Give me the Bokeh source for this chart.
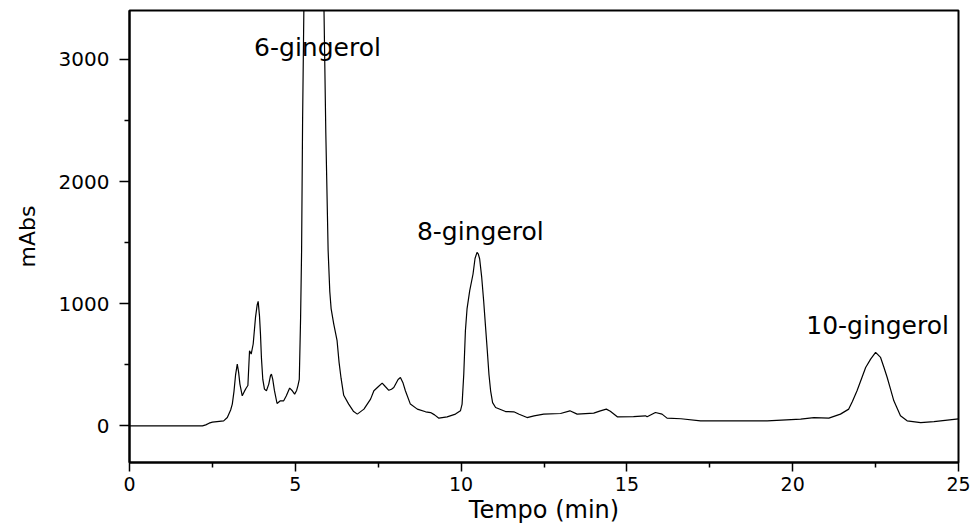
from bokeh.plotting import figure
from bokeh.models import FixedTicker, Range1d
from bokeh.core.properties import value
from bokeh.embed import file_html
from bokeh.resources import INLINE

# HPLC chromatogram of gingerols: retention time (min) vs absorbance (mAbs)
tempo = [
    0.0, 2.2, 2.3, 2.4, 2.5, 2.64, 2.84, 2.95, 3.05, 3.10, 3.15, 3.20, 3.25, 3.29,
    3.33, 3.40, 3.46, 3.52, 3.57, 3.62, 3.67, 3.73, 3.80, 3.85, 3.88, 3.92, 3.95,
    3.98, 4.02, 4.07, 4.13, 4.20, 4.25, 4.28, 4.32, 4.37, 4.45, 4.55, 4.65, 4.73,
    4.83, 4.91, 4.98, 5.04, 5.08, 5.12, 5.16, 5.19, 5.22, 5.26, 5.32, 5.45, 5.60,
    5.75, 5.86, 5.92, 5.99, 6.04, 6.08, 6.16, 6.26, 6.32, 6.38, 6.46, 6.61, 6.75,
    6.87, 7.07, 7.27, 7.37, 7.50, 7.62, 7.72, 7.82, 7.90, 7.97, 8.10, 8.17, 8.25,
    8.32, 8.47, 8.68, 8.93, 9.08, 9.20, 9.33, 9.58, 9.83, 9.98, 10.03, 10.08,
    10.13, 10.18, 10.26, 10.36, 10.42, 10.48, 10.52, 10.56, 10.62, 10.68, 10.74,
    10.79, 10.84, 10.89, 10.95, 11.04, 11.34, 11.59, 11.75, 11.99, 12.2, 12.49,
    13.0, 13.28, 13.5, 14.0, 14.2, 14.38, 14.5, 14.71, 15.2, 15.56, 15.61, 15.86,
    16.06, 16.21, 16.63, 17.22, 18.2, 19.23, 20.24, 20.64, 21.09, 21.44, 21.69,
    21.8, 21.94, 22.08, 22.20, 22.35, 22.50, 22.65, 22.75, 22.85, 22.95, 23.05,
    23.25, 23.45, 23.86, 24.26, 25.0,
]
mabs = [
    0, 0, 8, 22, 30, 35, 41, 68, 130, 178, 280, 420, 506, 440,
    342, 246, 280, 310, 330, 615, 588, 670, 888, 990, 1019, 900, 751,
    550, 380, 301, 287, 342, 410, 424, 380, 290, 183, 205, 205, 246,
    309, 287, 260, 290, 330, 380, 888, 1435, 2500, 3450, 4400, 4900, 5000,
    4700, 3500, 2400, 1435, 1100, 960, 833, 697, 520, 390, 250, 178, 120,
    96, 137, 219, 287, 320, 350, 320, 291, 300, 314, 380, 396, 350,
    287, 178, 137, 115, 109, 90, 63, 74, 96, 123, 178, 420,
    779, 960, 1107, 1243, 1370, 1420, 1405, 1366, 1220, 1024, 800,
    615, 420, 287, 190, 150, 117, 115, 95, 68, 82, 96,
    101, 123, 96, 104, 123, 137, 120, 74, 75, 82, 74, 109,
    96, 63, 58, 41, 40, 41, 55, 68, 63, 96, 137,
    200, 287, 390, 478, 546, 601, 560, 480, 396, 300, 205,
    82, 41, 27, 35, 57,
]

# peak annotations
picos = ["6-gingerol", "8-gingerol", "10-gingerol"]
pico_x = [5.67, 10.58, 22.56]
pico_y = [3100, 1590, 820]

x_ticks = [0, 5, 10, 15, 20, 25]
x_minor = [2.5, 7.5, 12.5, 17.5, 22.5]
y_ticks = [0, 1000, 2000, 3000]
y_minor = [500, 1500, 2500]

FONT = "DejaVu Sans"

p = figure(
    width=972, height=529,
    x_range=Range1d(0, 25), y_range=Range1d(-300, 3400),
    output_backend="svg", toolbar_location=None,
    min_border_left=129, min_border_right=14,
    min_border_top=10, min_border_bottom=67,
    x_axis_label="Tempo (min)", y_axis_label="mAbs",
)

p.line(tempo, mabs, line_color="black", line_width=1.2)

p.text(x=pico_x, y=pico_y, text=picos, text_font=value(FONT),
       text_font_size="25px", text_align="center",
       text_baseline="alphabetic", text_color="black")

p.xgrid.visible = False
p.ygrid.visible = False
p.outline_line_color = "black"
p.outline_line_width = 2
p.outline_line_alpha = 1.0

p.xaxis.ticker = FixedTicker(ticks=x_ticks, minor_ticks=x_minor)
p.yaxis.ticker = FixedTicker(ticks=y_ticks, minor_ticks=y_minor)

for ax in (p.xaxis, p.yaxis):
    ax.axis_line_width = 2
    ax.axis_line_color = "black"
    ax.major_tick_line_color = "black"
    ax.minor_tick_line_color = "black"
    ax.major_tick_line_width = 1.5
    ax.minor_tick_line_width = 1.5
    ax.major_tick_in = 0
    ax.minor_tick_in = 0
    ax.minor_tick_out = 5
    ax.major_label_text_font = FONT
    ax.major_label_text_color = "black"
    ax.axis_label_text_font = FONT
    ax.axis_label_text_font_style = "normal"
    ax.axis_label_text_color = "black"

p.xaxis.major_tick_out = 9
p.yaxis.major_tick_out = 10
p.xaxis.major_label_text_font_size = "19px"
p.yaxis.major_label_text_font_size = "20px"
p.xaxis.major_label_standoff = 5
p.yaxis.major_label_standoff = 10
p.xaxis.axis_label_text_font_size = "24px"
p.yaxis.axis_label_text_font_size = "22px"
p.xaxis.axis_label_standoff = 2
p.yaxis.axis_label_standoff = 16

open("out.html", "w").write(file_html(p, INLINE))
